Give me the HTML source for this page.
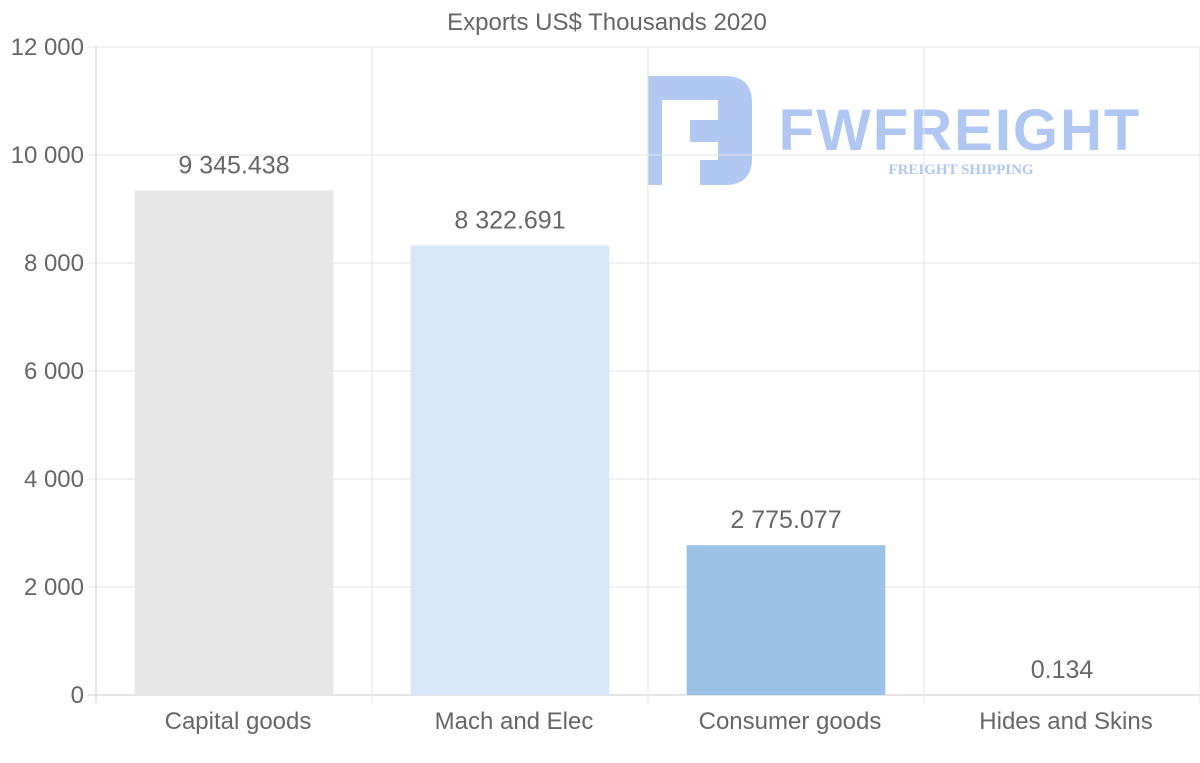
<!DOCTYPE html>
<html><head><meta charset="utf-8"><style>
body{margin:0;background:#fff;font-family:"Liberation Sans",sans-serif}
svg{display:block}
</style></head><body>
<svg id="chart" width="1200" height="763" xmlns="http://www.w3.org/2000/svg">
<text x="607" y="30" text-anchor="middle" font-size="24" fill="#666">Exports US$ Thousands 2020</text>
<g opacity="0.55">
<path d="M648 76 H725 Q752 76 752 103 V158 Q752 185 725 185 H700 V160 H718 V142 H690 V120 H718 V100 H662 V185 H648 Z" fill="#6f9be8"/>
<text x="960" y="150" text-anchor="middle" font-size="58" font-weight="bold" fill="#6f9be8" letter-spacing="2">FWFREIGHT</text>
<text x="961" y="174" text-anchor="middle" font-size="15" font-weight="bold" font-family="Liberation Serif,serif" fill="#6f9be8">FREIGHT SHIPPING</text>
</g>
<g id="grid"></g><g id="bars"></g><g id="labels"></g>
</svg>
<script>
const categories=["Capital goods","Mach and Elec","Consumer goods","Hides and Skins"];
const values=[9345.438,8322.691,2775.077,0.134];
const valueLabels=["9 345.438","8 322.691","2 775.077","0.134"];
const yTicks=[0,2000,4000,6000,8000,10000,12000];
const yTickLabels=["0","2 000","4 000","6 000","8 000","10 000","12 000"];
const barColors=["#e8e8e8","#d8e7f9","#9cc3e6","#c9c9c9"];
const NS="http://www.w3.org/2000/svg";
const x0=96,x1=1200,yb=695,yt=47,ymax=12000;
const y=v=>yb-(v/ymax)*(yb-yt);
const bw=(x1-x0)/categories.length;
const xc=i=>x0+bw*(i+0.5);
function mk(tag,attrs,parent,text){const e=document.createElementNS(NS,tag);for(const k in attrs)e.setAttribute(k,attrs[k]);if(text!==undefined)e.textContent=text;document.getElementById(parent).appendChild(e);return e;}
yTicks.forEach((t,i)=>{
 const l=mk("line",{x1:88,x2:x1,y1:y(t),y2:y(t),stroke:i===0?"#ccc":"#e6e6e6","stroke-width":1},"grid");
 
 
 const tx=mk("text",{x:84,y:y(t)+8,"text-anchor":"end","font-size":24,fill:"#666"},"grid",yTickLabels[i]);
 
 
});
for(let i=0;i<=categories.length;i++){
 const xx=x0+bw*i;
 const l=mk("line",{x1:xx,x2:xx,y1:yt,y2:yb+8,stroke:i===0?"#ccc":"#e6e6e6","stroke-width":1},"grid");
 
 
}
categories.forEach((c,i)=>{
 const w=bw*0.72;
 const b=mk("rect",{x:xc(i)-w/2,y:y(values[i]),width:w,height:yb-y(values[i]),fill:barColors[i]},"bars");
 
 
 const v=mk("text",{x:xc(i),y:y(values[i])-17,"text-anchor":"middle","font-size":25,fill:"#666"},"labels",valueLabels[i]);
 
 
 const xl=mk("text",{x:xc(i)+4,y:729,"text-anchor":"middle","font-size":24,fill:"#666"},"labels",c);
 
 
});
</script>
</body></html>
